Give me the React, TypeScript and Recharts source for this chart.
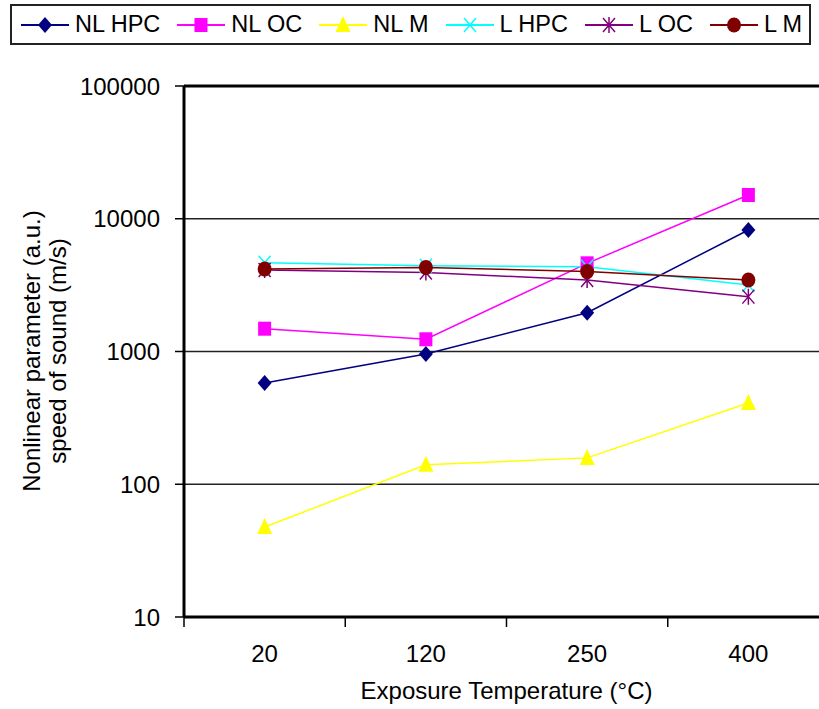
import React from 'react';
import { LineChart, Line, XAxis, YAxis, CartesianGrid, Legend, Label, ReferenceLine } from 'recharts';

const temperatures = ['20', '120', '250', '400'];
const nlHpc = [580, 957, 1960, 8230];
const nlOc = [1485, 1236, 4615, 15100];
const nlM = [47.6, 140, 158, 409];
const lHpc = [4670, 4430, 4350, 3170];
const lOc = [4110, 3930, 3460, 2590];
const lM = [4180, 4300, 4000, 3460];
const yTicks = [10, 100, 1000, 10000, 100000];

const series = [
  { key: 'nlHpc', name: 'NL HPC', color: '#000080', shape: 'diamond', values: nlHpc },
  { key: 'nlOc', name: 'NL OC', color: '#FF00FF', shape: 'square', values: nlOc },
  { key: 'nlM', name: 'NL M', color: '#FFFF00', shape: 'triangle', values: nlM },
  { key: 'lHpc', name: 'L HPC', color: '#00FFFF', shape: 'cross', values: lHpc },
  { key: 'lOc', name: 'L OC', color: '#800080', shape: 'star', values: lOc },
  { key: 'lM', name: 'L M', color: '#800000', shape: 'circle', values: lM },
];

const data = temperatures.map((t, i) => {
  const row: any = { temp: t };
  series.forEach((s) => (row[s.key] = s.values[i]));
  return row;
});

const FONT = '"Liberation Sans", Arial, sans-serif';
const CHART_W = 835;
const CHART_H = 709;
const M = { top: 86, right: 6, left: 0, bottom: 0 };
const Y_W = 184;
const X_H = 92;
const BAND = (CHART_W - M.right - M.left - Y_W) / temperatures.length;

function marker(shape: string, color: string, cx: number, cy: number, key?: any) {
  switch (shape) {
    case 'diamond':
      return <path key={key} d={`M${cx},${cy - 8}L${cx + 7},${cy}L${cx},${cy + 8}L${cx - 7},${cy}Z`} fill={color} />;
    case 'square':
      return <rect key={key} x={cx - 6.5} y={cy - 7} width={13} height={14} fill={color} />;
    case 'triangle':
      return <path key={key} d={`M${cx},${cy - 9}L${cx + 7.5},${cy + 7}L${cx - 7.5},${cy + 7}Z`} fill={color} />;
    case 'cross':
      return (
        <path key={key} d={`M${cx - 6},${cy - 7}L${cx + 6},${cy + 7}M${cx + 6},${cy - 7}L${cx - 6},${cy + 7}`} stroke={color} strokeWidth={1.5} fill="none" />
      );
    case 'star':
      return (
        <path
          key={key}
          d={`M${cx - 6},${cy - 7}L${cx + 6},${cy + 7}M${cx + 6},${cy - 7}L${cx - 6},${cy + 7}M${cx},${cy - 8}L${cx},${cy + 8}`}
          stroke={color}
          strokeWidth={1.5}
          fill="none"
        />
      );
    default:
      return <ellipse key={key} cx={cx} cy={cy} rx={7} ry={7.5} fill={color} />;
  }
}

const XTick = (props: any) => {
  const { x, y, payload, index } = props;
  return (
    <g>
      <line x1={x - BAND / 2} y1={y} x2={x - BAND / 2} y2={y + 10} stroke="#000" strokeWidth={1.5} />
      {index === temperatures.length - 1 && (
        <line x1={x + BAND / 2} y1={y} x2={x + BAND / 2} y2={y + 10} stroke="#000" strokeWidth={1.5} />
      )}
      <text x={x} y={y + 45} textAnchor="middle" fontSize={24} fontFamily={FONT} fill="#000">
        {payload.value}
      </text>
    </g>
  );
};

const YTitle = () => (
  <text transform="rotate(-90, 52, 351)" x={52} y={351} textAnchor="middle" fontSize={24} fontFamily={FONT} fill="#000">
    <tspan x={52} dy={-12}>Nonlinear parameter (a.u.)</tspan>
    <tspan x={52} dy={26}>speed of sound (m/s)</tspan>
  </text>
);

const renderLegend = () => (
  <div
    style={{
      boxSizing: 'border-box',
      width: 801,
      height: 41,
      border: '2px solid #222',
      display: 'flex',
      alignItems: 'center',
      paddingLeft: 9,
      fontFamily: FONT,
      fontSize: 23.5,
      color: '#000',
      background: '#fff',
    }}
  >
    {series.map((s) => (
      <div key={s.key} style={{ display: 'flex', alignItems: 'center', marginRight: 17 }}>
        <svg width={48} height={24} style={{ marginRight: 6 }}>
          <line x1={0} y1={12} x2={48} y2={12} stroke={s.color} strokeWidth={2} />
          {marker(s.shape, s.color, 24, 12)}
        </svg>
        <span style={{ whiteSpace: 'nowrap' }}>{s.name}</span>
      </div>
    ))}
  </div>
);

export default function App() {
  return (
    <div style={{ position: 'absolute', left: 0, top: 0, width: 819, height: 709, overflow: 'hidden', background: '#fff' }}>
      <LineChart width={CHART_W} height={CHART_H} data={data} margin={M}>
        <CartesianGrid vertical={false} stroke="#222" strokeWidth={1.5} />
        <XAxis
          dataKey="temp"
          height={X_H}
          padding={{ left: BAND / 2, right: BAND / 2 }}
          axisLine={{ stroke: '#000', strokeWidth: 3 }}
          tickLine={false}
          tickSize={0}
          tickMargin={0}
          tick={<XTick />}
          interval={0}
        >
          <Label value="Exposure Temperature (°C)" position="insideBottom" offset={10} fontSize={24} fontFamily={FONT} fill="#000" />
        </XAxis>
        <YAxis
          width={Y_W}
          scale="log"
          domain={[10, 100000]}
          ticks={yTicks}
          allowDataOverflow
          interval={0}
          axisLine={{ stroke: '#000', strokeWidth: 3 }}
          tickLine={{ stroke: '#000', strokeWidth: 1.5 }}
          tickSize={9}
          tickMargin={15}
          tick={{ fontSize: 24, fontFamily: FONT, fill: '#000' }}
        >
          <Label content={<YTitle />} />
        </YAxis>
        <ReferenceLine y={100000} stroke="#000" strokeWidth={3} />
        {series.map((s) => (
          <Line
            key={s.key}
            dataKey={s.key}
            name={s.name}
            stroke={s.color}
            strokeWidth={1.5}
            isAnimationActive={false}
            activeDot={false}
            dot={(p: any) => marker(s.shape, s.color, p.cx, p.cy, `${s.key}-${p.index}`)}
          />
        ))}
        <Legend verticalAlign="middle" layout="horizontal" content={renderLegend} wrapperStyle={{ top: 4, left: 10, width: 801, height: 41 }} />
      </LineChart>
    </div>
  );
}
